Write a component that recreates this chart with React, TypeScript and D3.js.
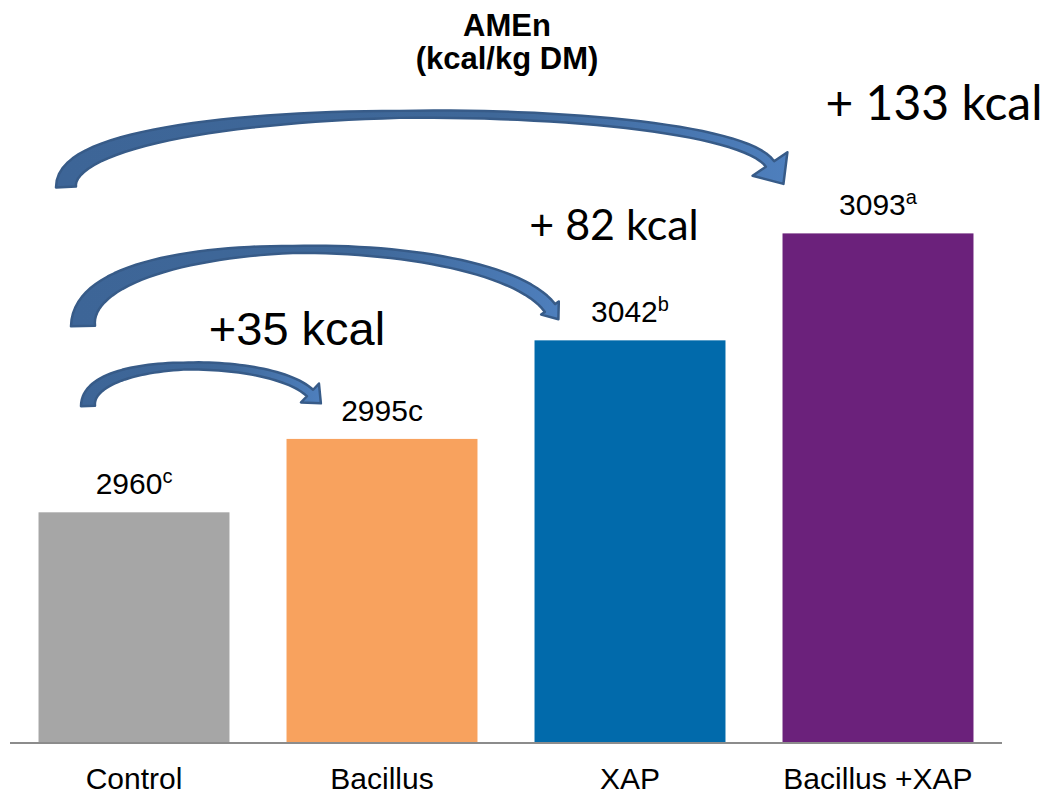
import React from "react";
import * as d3 from "d3";

// Treatments and their AMEn values (kcal/kg DM)
const categories = ["Control", "Bacillus", "XAP", "Bacillus +XAP"];
const amenValues = [2960, 2995, 3042, 3093];
const significance = ["c", "c", "b", "a"];
const superscriptLetter = [true, false, true, true];
const barColors = ["#A6A6A6", "#F8A25E", "#016AAB", "#6B217B"];

// Gains over the control, shown on the curved arrows
const gainTargets = ["Bacillus +XAP", "XAP", "Bacillus"];
const gainLabels = ["+ 133 kcal", "+ 82 kcal", "+35 kcal"];

const W = 1047;
const H = 794;
const axisY = 743;

type Pt = [number, number];

// Curved arrow geometry (drawing layout, in pixels)
const arrowLayout = [
  {
    p: [[66, 187], [62, 92], [724, 96], [770, 164]] as Pt[],
    w: [20, 7, 10],
    head: [21, 24],
    label: { x: 934, y: 120, size: 48, font: "Lato, 'Open Sans', sans-serif" },
  },
  {
    p: [[83, 326], [80, 226], [490, 228], [550, 308]] as Pt[],
    w: [24, 7, 13],
    head: [11, 14],
    label: { x: 614, y: 240, size: 43, font: "Lato, 'Open Sans', sans-serif" },
  },
  {
    p: [[88, 406], [86, 355], [270, 355], [310, 393]] as Pt[],
    w: [14, 7, 9],
    head: [13, 15],
    label: { x: 297, y: 345, size: 47, font: "'Liberation Sans', Arial, sans-serif" },
  },
];

function bezier(p: Pt[], t: number): Pt {
  const u = 1 - t;
  const a = u * u * u, b = 3 * u * u * t, c = 3 * u * t * t, d = t * t * t;
  return [
    a * p[0][0] + b * p[1][0] + c * p[2][0] + d * p[3][0],
    a * p[0][1] + b * p[1][1] + c * p[2][1] + d * p[3][1],
  ];
}

function bezierTangent(p: Pt[], t: number): Pt {
  const u = 1 - t;
  const dx = 3 * u * u * (p[1][0] - p[0][0]) + 6 * u * t * (p[2][0] - p[1][0]) + 3 * t * t * (p[3][0] - p[2][0]);
  const dy = 3 * u * u * (p[1][1] - p[0][1]) + 6 * u * t * (p[2][1] - p[1][1]) + 3 * t * t * (p[3][1] - p[2][1]);
  const len = Math.hypot(dx, dy) || 1;
  return [dx / len, dy / len];
}

// Build a tapered curved arrow outline along a cubic Bezier
function arrowOutline(p: Pt[], w: number[], head: number[]): string {
  const widthAt = d3.scaleLinear<number>().domain([0, 0.5, 1]).range(w);
  const n = 60;
  const left: Pt[] = [];
  const right: Pt[] = [];
  for (let i = 0; i <= n; i++) {
    const t = i / n;
    const [x, y] = bezier(p, t);
    const [tx, ty] = bezierTangent(p, t);
    const nx = -ty, ny = tx;
    const hw = widthAt(t) / 2;
    left.push([x + nx * hw, y + ny * hw]);
    right.push([x - nx * hw, y - ny * hw]);
  }
  const [ex, ey] = bezier(p, 1);
  const [tx, ty] = bezierTangent(p, 1);
  const nx = -ty, ny = tx;
  const [hh, hl] = head;
  const headPts: Pt[] = [
    [ex + nx * hh, ey + ny * hh],
    [ex + tx * hl, ey + ty * hl],
    [ex - nx * hh, ey - ny * hh],
  ];
  const pts = [...left, ...headPts, ...right.reverse()];
  const line = d3.line<Pt>().curve(d3.curveLinearClosed);
  return line(pts) || "";
}

export default function App() {
  const x = d3.scaleBand<string>().domain(categories).range([10, 1002]).paddingInner(0.23).paddingOuter(0.115);
  const y = d3.scaleLinear().domain([2850, 3200]).range([axisY, 9]);
  const bw = x.bandwidth();
  const font = "'Liberation Sans', Arial, Helvetica, sans-serif";

  return (
    <svg
      width={W}
      height={H}
      viewBox={`0 0 ${W} ${H}`}
      style={{ position: "absolute", left: 0, top: 0, background: "#fff" }}
    >
      <defs>
        <linearGradient id="arrowFill" x1="0" y1="0" x2="1" y2="0">
          <stop offset="0" stopColor="#3D6597" />
          <stop offset="0.6" stopColor="#3F6899" />
          <stop offset="1" stopColor="#4E7FBD" />
        </linearGradient>
      </defs>

      {/* Title */}
      <text x={507} y={36} textAnchor="middle" fontFamily={font} fontWeight="bold" fontSize={31} fill="#000">
        AMEn
      </text>
      <text x={507} y={69} textAnchor="middle" fontFamily={font} fontWeight="bold" fontSize={31} fill="#000">
        (kcal/kg DM)
      </text>

      {/* Bars */}
      {categories.map((c, i) => (
        <rect
          key={c}
          x={x(c)}
          y={y(amenValues[i])}
          width={bw}
          height={axisY - y(amenValues[i])}
          fill={barColors[i]}
        />
      ))}

      {/* Baseline */}
      <line x1={10} x2={1002} y1={axisY} y2={axisY} stroke="#8C8C8C" strokeWidth={2} />

      {/* Value labels with significance letters */}
      {categories.map((c, i) => (
        <text
          key={c}
          x={(x(c) as number) + bw / 2}
          y={y(amenValues[i]) - 18}
          textAnchor="middle"
          fontFamily={font}
          fontSize={30}
          fill="#000"
        >
          {amenValues[i]}
          {superscriptLetter[i] ? (
            <tspan fontSize={20} dy={-11}>{significance[i]}</tspan>
          ) : (
            <tspan>{significance[i]}</tspan>
          )}
        </text>
      ))}

      {/* Category labels */}
      {categories.map((c) => (
        <text
          key={c}
          x={(x(c) as number) + bw / 2}
          y={789}
          textAnchor="middle"
          fontFamily={font}
          fontSize={30}
          fill="#000"
        >
          {c}
        </text>
      ))}

      {/* Curved gain arrows and their labels */}
      {arrowLayout.map((a, i) => (
        <g key={gainTargets[i]}>
          <path
            d={arrowOutline(a.p, a.w, a.head)}
            fill="url(#arrowFill)"
            stroke="#375B88"
            strokeWidth={2.5}
            strokeLinejoin="round"
          />
          <text
            x={a.label.x}
            y={a.label.y}
            textAnchor="middle"
            fontFamily={a.label.font}
            fontSize={a.label.size}
            fill="#000"
          >
            {gainLabels[i]}
          </text>
        </g>
      ))}
    </svg>
  );
}
